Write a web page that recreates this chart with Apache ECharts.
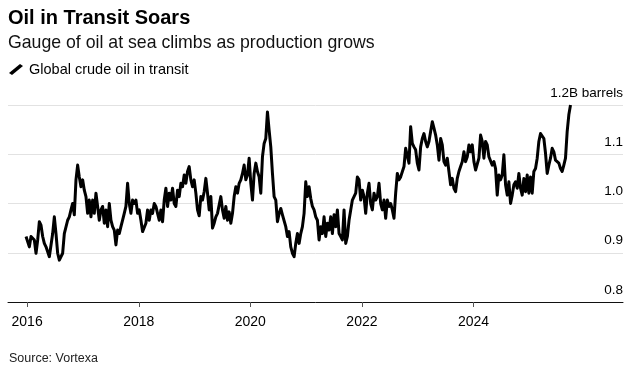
<!DOCTYPE html>
<html>
<head>
<meta charset="utf-8">
<script src="https://cdn.jsdelivr.net/npm/echarts@6/dist/echarts.min.js"></script>
<style>
  html, body { margin: 0; padding: 0; background: #fff; }
  #chart { width: 637px; height: 376px; }
</style>
</head>
<body>
<div id="chart"></div>
<script>
// Global crude oil in transit, billion barrels (~11 day spacing)
var transit2016 = [
	0.933, 0.929, 0.912, 0.933, 0.936, 0.926, 0.899, 0.926, 0.963, 0.956,
	0.933, 0.919, 0.912, 0.909, 0.892, 0.889, 0.939, 0.973, 0.939, 0.899,
	0.885, 0.885, 0.899, 0.939, 0.939, 0.966, 0.973, 0.987, 1.000, 0.977,
	1.048, 1.078, 1.054, 1.034, 1.048, 1.027, 1.014, 0.980, 1.007, 0.973,
	1.007, 0.980, 1.021, 0.994, 0.966, 0.987, 0.994, 0.960, 0.987, 0.953,
	1.000, 0.966, 0.953, 0.946, 0.916, 0.946, 0.939, 0.953, 0.966, 0.980,
	0.994, 1.041, 1.000, 0.980, 1.007, 1.000, 1.007, 0.980, 0.987, 0.966,
	0.943, 0.939, 0.960, 0.987, 0.966, 0.987, 0.980, 1.000, 0.994, 0.980
];
var transit2018 = [
	0.966, 0.987, 0.963, 1.007, 1.031, 0.994, 1.021, 1.007, 1.031, 1.000,
	0.994, 1.027, 1.014, 1.041, 1.034, 1.058, 1.041, 1.065, 1.075, 1.048,
	1.034, 1.048, 1.021, 0.987, 0.975, 1.014, 1.007, 1.024, 1.051, 1.021,
	0.987, 1.014, 0.950, 0.960, 0.973, 0.980, 0.977, 1.014, 0.987, 0.970,
	0.994, 0.966, 0.983, 0.960, 0.980, 1.014, 1.034, 1.021, 1.041, 1.048,
	1.061, 1.078, 1.048, 1.058, 1.092, 1.041, 1.007, 1.061, 1.082, 1.065,
	1.054, 1.021, 1.095, 1.122, 1.132, 1.186, 1.149, 1.115, 1.061, 1.014,
	1.007, 0.963, 0.980, 0.990, 0.977, 0.980, 0.953, 0.933, 0.943, 0.912,
	0.899
];
var transit2020 = [
	0.892, 0.919, 0.939, 0.919, 0.939, 0.953, 0.980, 1.044, 1.014, 1.034,
	1.010, 0.994, 0.987, 0.973, 0.966, 0.926, 0.953, 0.939, 0.973, 0.933,
	0.960, 0.946, 0.973, 0.939, 0.977, 0.953, 0.987, 0.939, 0.933, 0.926,
	0.987, 0.919, 0.933, 0.966, 0.987, 1.007, 1.014, 1.021, 1.054, 1.048,
	1.007, 1.027, 1.014, 0.980, 1.021, 1.041, 1.000, 0.987, 1.021, 1.007,
	1.014, 1.041, 1.000, 0.987, 1.007, 0.970, 1.007, 0.994, 1.000, 0.987,
	0.970, 1.021, 1.061, 1.048, 1.054, 1.054, 1.075, 1.112, 1.115, 1.082,
	1.156, 1.122, 1.115, 1.109, 1.082, 1.068, 1.115, 1.132, 1.142, 1.126,
	1.115
];
var transit2023 = [
	1.126, 1.146, 1.166, 1.153, 1.139, 1.119, 1.088, 1.132, 1.119, 1.085,
	1.078, 1.092, 1.065, 1.038, 1.051, 1.031, 1.024, 1.051, 1.065, 1.075,
	1.085, 1.105, 1.085, 1.095, 1.119, 1.105, 1.119, 1.085, 1.068, 1.065,
	1.092, 1.139, 1.126, 1.092, 1.126, 1.119, 1.095, 1.092, 1.078, 1.085,
	1.071, 1.017, 1.058, 1.048, 1.058, 1.099, 1.038, 1.017, 1.044, 1.000,
	1.017, 1.038, 1.044, 1.031, 1.061, 1.031, 1.017, 1.051, 1.024, 1.058,
	1.021, 1.054, 1.021, 1.065, 1.071, 1.092, 1.126, 1.142, 1.146, 1.132,
	1.102, 1.061, 1.078, 1.092, 1.112, 1.105, 1.088, 1.085, 1.082, 1.071,
	1.065, 1.078, 1.092, 1.146, 1.180, 1.200
];
var firstDate = Date.UTC(2015, 11, 25);
var stepDays = 10.9;
var tickYears = [2016, 2018, 2020, 2022, 2024];

var font = "'Liberation Sans', Arial, sans-serif";
var values = transit2016.concat(transit2018, transit2020, transit2023);
var seriesData = values.map(function (v, i) {
	return [firstDate + i * stepDays * 86400000, v];
});
var tickValues = tickYears.map(function (y) { return Date.UTC(y, 0, 1); });

var myChart = echarts.init(document.getElementById('chart'), null, { renderer: 'canvas' });

var option = {
	animation: false,
	backgroundColor: '#fff',
	title: [{
		text: 'Oil in Transit Soars',
		left: 8,
		top: 8,
		padding: 0,
		textStyle: { fontFamily: font, fontSize: 20, fontWeight: 'bold', color: '#000' }
	}, {
		text: 'Gauge of oil at sea climbs as production grows',
		left: 8,
		top: 34,
		padding: 0,
		textStyle: { fontFamily: font, fontSize: 17.7, fontWeight: 'normal', color: '#111' }
	}, {
		text: 'Source: Vortexa',
		left: 9,
		top: 352,
		padding: 0,
		textStyle: { fontFamily: font, fontSize: 12.5, fontWeight: 'normal', color: '#222' }
	}],
	legend: {
		left: 9,
		top: 62,
		padding: 0,
		itemWidth: 14,
		itemHeight: 11,
		icon: 'path://M0,9 L11,0 L14,2 L3,11 Z',
		textStyle: { fontFamily: font, fontSize: 14.5, color: '#000', padding: [0, 0, 0, 1] },
		data: [{ name: 'Global crude oil in transit', itemStyle: { color: '#000' } }]
	},
	grid: {
		left: 8,
		right: 14,
		top: 105,
		bottom: 74
	},
	xAxis: {
		// timestamps on a value axis so the year ticks can be placed exactly
		type: 'value',
		min: Date.UTC(2015, 7, 29),
		max: Date.UTC(2026, 8, 6),
		axisLine: { lineStyle: { color: '#111', width: 1 } },
		axisTick: {
			show: true,
			length: 5,
			customValues: tickValues,
			lineStyle: { color: '#555', width: 1 }
		},
		axisLabel: {
			customValues: tickValues,
			margin: 13,
			fontFamily: font,
			fontSize: 14,
			color: '#000',
			formatter: function (v) { return String(new Date(v).getUTCFullYear()); }
		},
		splitLine: { show: false }
	},
	yAxis: {
		type: 'value',
		position: 'right',
		min: 0.8,
		max: 1.2,
		interval: 0.1,
		axisLine: { show: false },
		axisTick: { show: false },
		axisLabel: {
			inside: true,
			margin: 0,
			verticalAlign: 'bottom',
			padding: [0, 0, 5, 0],
			fontFamily: font,
			fontSize: 13.5,
			color: '#000',
			formatter: function (v) {
				if (Math.abs(v - 1.2) < 1e-6) return '1.2B barrels';
				return v.toFixed(1);
			}
		},
		splitLine: { lineStyle: { color: '#e2e2e2', width: 1 } }
	},
	series: [{
		name: 'Global crude oil in transit',
		type: 'line',
		data: seriesData,
		showSymbol: false,
		symbol: 'none',
		lineStyle: { color: '#000', width: 3, join: 'round' },
		itemStyle: { color: '#000' },
		z: 5
	}]
};

myChart.setOption(option);
</script>
</body>
</html>
